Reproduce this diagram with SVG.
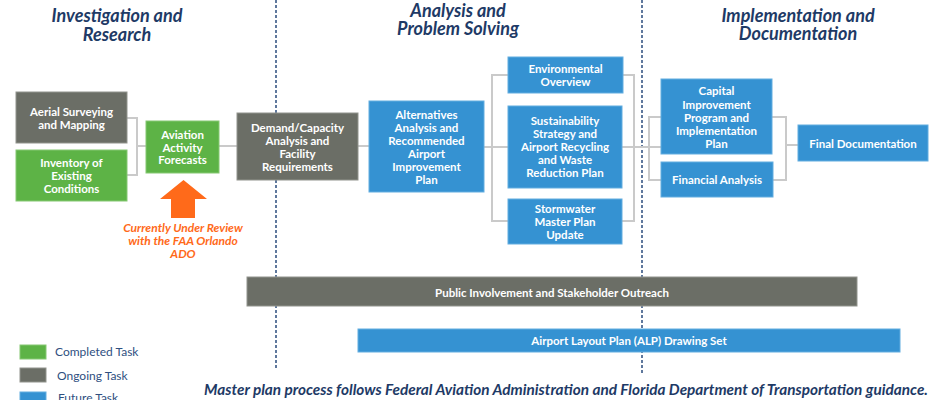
<svg xmlns="http://www.w3.org/2000/svg" width="940" height="400" viewBox="0 0 940 400">
<style>
.bx{stroke-width:1}
.g{fill:#5DB346;stroke:#86C873}
.o{fill:#6B6E66;stroke:#92948D}
.b{fill:#3592D2;stroke:#63ADE0}
.t{font-family:Lato,"Liberation Sans",sans-serif;font-weight:bold;font-size:11.5px;fill:#ffffff;text-anchor:middle}
.h{font-family:Lato,"Liberation Sans",sans-serif;font-weight:bold;font-style:italic;font-size:18px;fill:#1E3A66;text-anchor:middle}
.c{fill:none;stroke:#CACACA;stroke-width:2}
.d{fill:none;stroke:#2B4C7E;stroke-width:1.5;stroke-dasharray:3 2}
.lg{font-family:Lato,"Liberation Sans",sans-serif;font-size:12px;fill:#2F4F7F}
</style>
<rect width="940" height="400" fill="#ffffff"/>
<g id="dividers">
<line class="d" x1="276" y1="0" x2="276" y2="368"/>
<line class="d" x1="642" y1="0" x2="642" y2="375"/>
</g>
<g id="headings">
<text class="h" x="117" y="22">Investigation and</text>
<text class="h" x="117" y="40.5">Research</text>
<text class="h" x="458" y="16.5">Analysis and</text>
<text class="h" x="458" y="35">Problem Solving</text>
<text class="h" x="798" y="21.5">Implementation and</text>
<text class="h" x="798" y="40">Documentation</text>
</g>
<g id="connectors">
<path class="c" d="M127 118H137V175H127M137 146H146"/>
<path class="c" d="M219 146H237"/>
<path class="c" d="M358 146H369"/>
<path class="c" d="M484 147H508M508 75H492V221H508"/>
<path class="c" d="M623 75H634V221H622M622 147H661M661 117H649V180H661"/>
<path class="c" d="M772 117H786V180H773M786 145H798"/>
</g>
<g id="aerial"><rect class="bx o" x="16" y="92" width="111" height="51"/>
<text class="t" x="71.5" y="116">Aerial Surveying</text><text class="t" x="71.5" y="129">and Mapping</text></g>
<g id="inventory"><rect class="bx g" x="16" y="150" width="111" height="51"/>
<text class="t" x="71.5" y="167">Inventory of</text><text class="t" x="71.5" y="180">Existing</text><text class="t" x="71.5" y="193">Conditions</text></g>
<g id="forecasts"><rect class="bx g" x="146" y="121" width="73" height="52"/>
<text class="t" x="182.5" y="139">Aviation</text><text class="t" x="182.5" y="152">Activity</text><text class="t" x="182.5" y="164">Forecasts</text></g>
<g id="review">
<path d="M160 199L183.5 180L207 199H195V218H171V199Z" fill="#FF6A1A"/>
<text font-family="Lato,'Liberation Sans',sans-serif" font-weight="bold" font-style="italic" font-size="12" fill="#FF6A1A" text-anchor="middle"><tspan x="183" y="232">Currently Under Review</tspan><tspan x="183" y="245">with the FAA Orlando</tspan><tspan x="183" y="258">ADO</tspan></text>
</g>
<g id="demand"><rect class="bx o" x="237" y="113" width="121" height="67"/>
<text class="t" x="297.5" y="132">Demand/Capacity</text><text class="t" x="297.5" y="145">Analysis and</text><text class="t" x="297.5" y="158">Facility</text><text class="t" x="297.5" y="171">Requirements</text></g>
<g id="alternatives"><rect class="bx b" x="369" y="101" width="115" height="91"/>
<text class="t" x="426.5" y="119">Alternatives</text><text class="t" x="426.5" y="132">Analysis and</text><text class="t" x="426.5" y="145">Recommended</text><text class="t" x="426.5" y="158">Airport</text><text class="t" x="426.5" y="171">Improvement</text><text class="t" x="426.5" y="184">Plan</text></g>
<g id="environmental"><rect class="bx b" x="508" y="57" width="115" height="36"/>
<text class="t" x="565.5" y="73">Environmental</text><text class="t" x="565.5" y="86">Overview</text></g>
<g id="sustainability"><rect class="bx b" x="508" y="106" width="114" height="82"/>
<text class="t" x="565" y="125">Sustainability</text><text class="t" x="565" y="138">Strategy and</text><text class="t" x="565" y="151">Airport Recycling</text><text class="t" x="565" y="164">and Waste</text><text class="t" x="565" y="177">Reduction Plan</text></g>
<g id="stormwater"><rect class="bx b" x="508" y="199" width="114" height="45"/>
<text class="t" x="565" y="213">Stormwater</text><text class="t" x="565" y="226">Master Plan</text><text class="t" x="565" y="239">Update</text></g>
<g id="capital"><rect class="bx b" x="661" y="79" width="111" height="75"/>
<text class="t" x="716.5" y="95">Capital</text><text class="t" x="716.5" y="109">Improvement</text><text class="t" x="716.5" y="122">Program and</text><text class="t" x="716.5" y="135">Implementation</text><text class="t" x="716.5" y="148">Plan</text></g>
<g id="financial"><rect class="bx b" x="661" y="162" width="112" height="35"/>
<text class="t" x="717" y="184">Financial Analysis</text></g>
<g id="final"><rect class="bx b" x="798" y="125" width="130" height="36"/>
<text class="t" x="863" y="148">Final Documentation</text></g>
<g id="public"><rect class="bx o" x="247" y="277" width="610" height="29"/>
<text class="t" x="552" y="297">Public Involvement and Stakeholder Outreach</text></g>
<g id="alp"><rect class="bx b" x="358" y="329" width="542" height="23"/>
<text class="t" x="629" y="345">Airport Layout Plan (ALP) Drawing Set</text></g>
<g id="legend">
<rect class="g" x="20" y="345" width="26" height="14"/>
<text class="lg" x="55" y="356">Completed Task</text>
<rect class="o" x="20" y="368" width="26" height="14"/>
<text class="lg" x="57" y="380">Ongoing Task</text>
<rect class="b" x="20" y="392" width="26" height="14"/>
<text class="lg" x="58" y="402">Future Task</text>
</g>
<g id="note">
<text font-family="Lato,'Liberation Sans',sans-serif" font-weight="bold" font-style="italic" font-size="14.5" fill="#1E3A66" x="204" y="395" textLength="724" lengthAdjust="spacingAndGlyphs">Master plan process follows Federal Aviation Administration and Florida Department of Transportation guidance.</text>
</g>
</svg>
